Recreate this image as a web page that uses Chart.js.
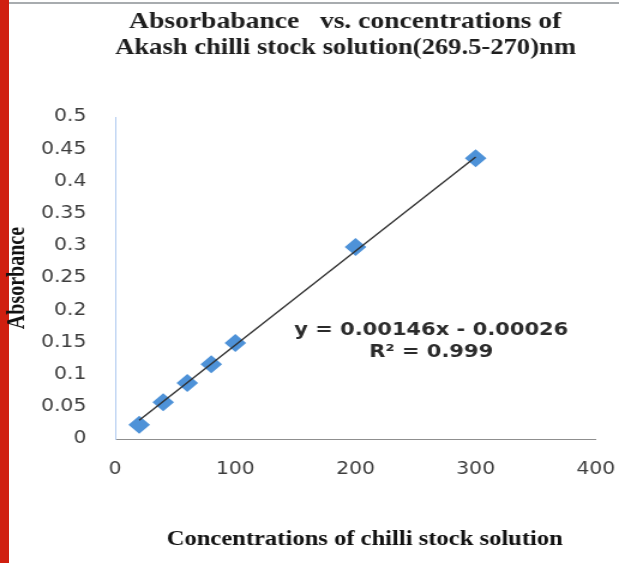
<!DOCTYPE html>
<html><head><meta charset="utf-8">
<script src="https://cdn.jsdelivr.net/npm/chart.js@4.4.1/dist/chart.umd.min.js"></script>
<style>
html,body{margin:0;padding:0;background:#fff;width:619px;height:563px;overflow:hidden;}
#bar{position:absolute;left:0;top:0;width:9px;height:563px;background:#d01f10;}
#band{position:absolute;left:9px;top:2px;width:610px;height:2px;background:#a8acaf;}
#c{position:absolute;left:0;top:0;}
</style></head><body>
<div id="bar"></div><div id="band"></div>
<canvas id="c" width="516" height="563" style="width:619px;height:563px"></canvas>
<script>
const titleLines = ['Absorbabance   vs. concentrations of   ', 'Akash chilli stock solution(269.5-270)nm   '];
const xAxisTitle = '   Concentrations of chilli stock solution';
const yAxisTitle = 'Absorbance';
const concentrations = [20, 40, 60, 80, 100, 200, 300];
const absorbance = [0.022, 0.057, 0.087, 0.116, 0.149, 0.298, 0.436];
const trendX = [20, 300];
const trendY = [0.029, 0.438];
const xTickValues = [0, 100, 200, 300, 400];
const xTickLabels = ['0', '100', '200', '300', '400'];
const yTickValues = [0, 0.05, 0.1, 0.15, 0.2, 0.25, 0.3, 0.35, 0.4, 0.45, 0.5];
const yTickLabels = ['0', '0.05', '0.1', '0.15', '0.2', '0.25', '0.3', '0.35', '0.4', '0.45', '0.5'];
const equationLines = ['y = 0.00146x - 0.00026', 'R\u00B2 = 0.999'];

const eqPlugin = {
  id: 'eq',
  afterDatasetsDraw(chart, args, opts) {
    const {ctx, scales: {x, y}} = chart;
    ctx.save();
    ctx.font = 'bold 17.5px "DejaVu Sans"';
    ctx.fillStyle = '#2b2b2b';
    ctx.textAlign = 'center';
    ctx.textBaseline = 'middle';
    const px = x.getPixelForValue(opts.x);
    equationLines.forEach((t, i) => ctx.fillText(t, px, y.getPixelForValue(opts.y[i])));
    ctx.restore();
  }
};

const tickFont = {family: '"DejaVu Sans"', size: 17};

new Chart(document.getElementById('c'), {
  type: 'scatter',
  data: {
    datasets: [
      {
        label: 'Trendline', type: 'line',
        data: trendX.map((x, i) => ({x: x, y: trendY[i]})),
        borderColor: '#2e2e2e', borderWidth: 1.3, pointRadius: 0, fill: false, order: 0
      },
      {
        label: 'Absorbance',
        data: concentrations.map((x, i) => ({x: x, y: absorbance[i]})),
        pointStyle: 'rectRot', pointRadius: 9, pointHoverRadius: 9,
        backgroundColor: '#4e92d8', borderColor: '#4e92d8', borderWidth: 0, order: 1
      }
    ]
  },
  options: {
    responsive: false, animation: false, devicePixelRatio: 1,
    layout: {padding: {left: 0, right: 19.3, top: 0, bottom: 0}},
    plugins: {
      legend: {display: false},
      tooltip: {enabled: false},
      title: {
        display: true, text: titleLines, fullSize: false,
        font: {family: '"Liberation Serif"', size: 23, weight: 'bold', lineHeight: 1.09},
        color: '#1e1e1e', padding: {top: 10, bottom: 56.9}
      },
      eq: {x: 263, y: [0.169, 0.134]}
    },
    scales: {
      x: {
        type: 'linear', min: 0, max: 400,
        afterBuildTicks: s => { s.ticks = xTickValues.map(v => ({value: v})); },
        grid: {display: true, drawOnChartArea: false, drawTicks: true, tickLength: 20,
          color: 'rgba(0,0,0,0)'},
        border: {display: true, color: '#8f8f8f', width: 1},
        ticks: {padding: 0, font: tickFont, color: '#3d3d3d', maxRotation: 0,
          callback: (v, i) => xTickLabels[i]},
        title: {display: true, text: xAxisTitle,
          font: {family: '"Liberation Serif"', size: 20.5, weight: 'bold'},
          color: '#111', padding: {top: 0, bottom: 11}},
        afterFit: s => { s.height = 124; }
      },
      y: {
        type: 'linear', min: 0, max: 0.5,
        afterBuildTicks: s => { s.ticks = yTickValues.map(v => ({value: v})); },
        grid: {display: false, drawTicks: false},
        border: {display: true, color: '#b3cdf0', width: 1},
        ticks: {padding: 24, font: tickFont, color: '#3d3d3d',
          callback: (v, i) => yTickLabels[i]},
        title: {display: true, text: yAxisTitle,
          font: {family: '"Liberation Serif"', size: 20, weight: 'bold'},
          color: '#111', padding: {top: 3, bottom: 0}},
        afterFit: s => { s.width = 96; }
      }
    }
  },
  plugins: [eqPlugin]
});
</script>
</body></html>
